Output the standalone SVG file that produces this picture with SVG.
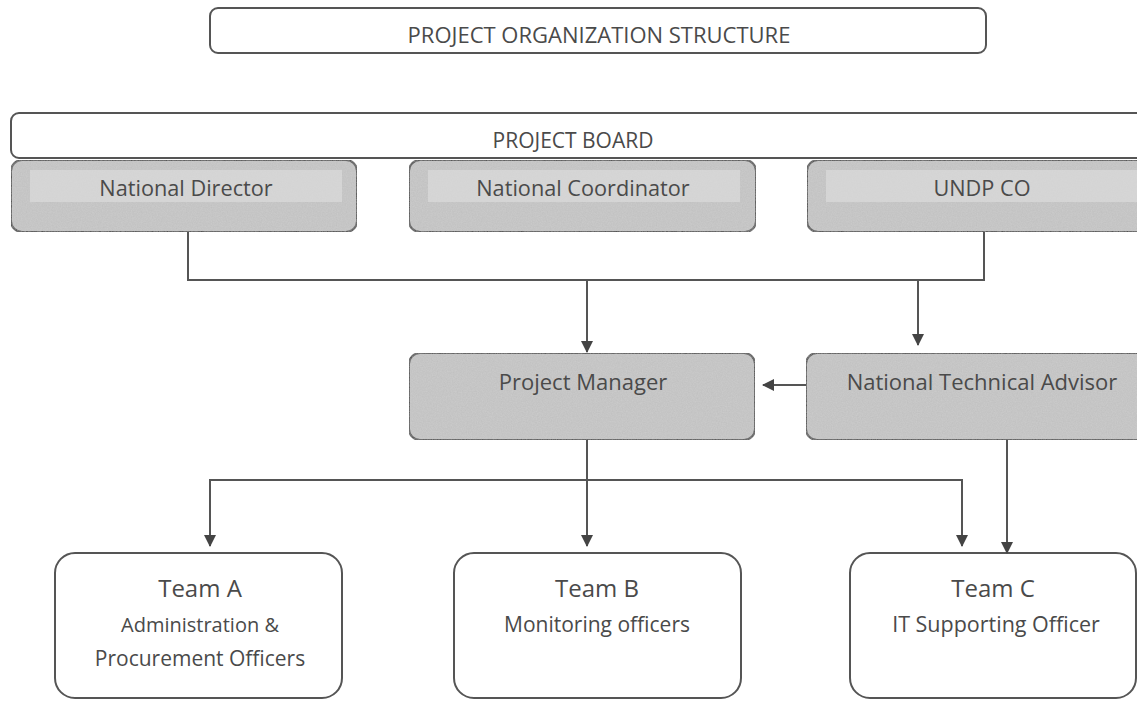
<svg xmlns="http://www.w3.org/2000/svg" width="1137" height="701" viewBox="0 0 1137 701">
<defs>
<style>
.box{fill:#fff;stroke:#555;stroke-width:2}
.gray{fill:#cacaca;stroke:#555;stroke-width:2}
.inner{fill:#dcdcdc;stroke:none}
.t{font-family:"Open Sans","Liberation Sans",sans-serif;fill:#4a4a4a;text-anchor:middle}
.line{fill:none;stroke:#555;stroke-width:2}
</style>
<marker id="ah" markerWidth="12" markerHeight="12" refX="11" refY="6" orient="auto" markerUnits="userSpaceOnUse" viewBox="0 0 12 12">
<path d="M0,0 L12,6 L0,12 Z" fill="#444"/>
</marker>
<filter id="grain" x="0" y="0" width="100%" height="100%">
<feTurbulence type="fractalNoise" baseFrequency="0.8" numOctaves="2" seed="3" result="n"/>
<feColorMatrix in="n" type="matrix" values="0 0 0 0 0.45  0 0 0 0 0.45  0 0 0 0 0.45  0 0 0 0.6 -0.1" result="g"/>
<feComposite in="g" in2="SourceGraphic" operator="in" result="gi"/>
<feMerge><feMergeNode in="SourceGraphic"/><feMergeNode in="gi"/></feMerge>
</filter>
</defs>
<rect width="1137" height="701" fill="#fff"/>

<g id="title">
<rect class="box" x="210" y="8" width="776" height="45" rx="8"/>
<text class="t" x="599" y="43" font-size="22">PROJECT ORGANIZATION STRUCTURE</text>
</g>

<g id="board">
<rect class="box" x="11" y="113" width="1140" height="45" rx="8"/>
<text class="t" x="573" y="148" font-size="21">PROJECT BOARD</text>
</g>

<g id="national-director">
<rect class="gray" x="11" y="160" width="346" height="72" rx="11" filter="url(#grain)"/>
<rect class="inner" x="30" y="170" width="312" height="32" opacity="0.7"/>
<text class="t" x="186" y="196" font-size="21.7">National Director</text>
</g>

<g id="national-coordinator">
<rect class="gray" x="409" y="160" width="347" height="72" rx="11" filter="url(#grain)"/>
<rect class="inner" x="428" y="170" width="312" height="32" opacity="0.7"/>
<text class="t" x="583" y="196" font-size="21.7">National Coordinator</text>
</g>

<g id="undp-co">
<rect class="gray" x="807" y="160" width="345" height="72" rx="11" filter="url(#grain)"/>
<rect class="inner" x="826" y="170" width="312" height="32" opacity="0.7"/>
<text class="t" x="982" y="196" font-size="21.7">UNDP CO</text>
</g>

<g id="project-manager">
<rect class="gray" x="409" y="353" width="346" height="87" rx="11" filter="url(#grain)"/>
<text class="t" x="583" y="390" font-size="22">Project Manager</text>
</g>

<g id="national-technical-advisor">
<rect class="gray" x="806" y="353" width="346" height="87" rx="11" filter="url(#grain)"/>
<text class="t" x="982" y="390" font-size="22">National Technical Advisor</text>
</g>

<g id="team-a">
<rect class="box" x="55" y="553" width="287" height="145" rx="20"/>
<text class="t" x="200" y="597" font-size="24">Team A</text>
<text class="t" x="200" y="632" font-size="20">Administration &amp;</text>
<text class="t" x="200" y="666" font-size="21">Procurement Officers</text>
</g>

<g id="team-b">
<rect class="box" x="454" y="553" width="287" height="145" rx="20"/>
<text class="t" x="597" y="597" font-size="24">Team B</text>
<text class="t" x="597" y="632" font-size="21">Monitoring officers</text>
</g>

<g id="team-c">
<rect class="box" x="850" y="553" width="286" height="145" rx="20"/>
<text class="t" x="993" y="597" font-size="24">Team C</text>
<text class="t" x="996" y="632" font-size="21.5">IT Supporting Officer</text>
</g>

<g id="connectors">
<path class="line" d="M188,232 V280 H984 V232"/>
<path class="line" d="M587,280 V352" marker-end="url(#ah)"/>
<path class="line" d="M918,280 V345" marker-end="url(#ah)"/>
<path class="line" d="M806,385 H763" marker-end="url(#ah)"/>
<path class="line" d="M587,440 V546" marker-end="url(#ah)"/>
<path class="line" d="M587,480 H210 V546" marker-end="url(#ah)"/>
<path class="line" d="M587,480 H962 V546" marker-end="url(#ah)"/>
<path class="line" d="M1007,440 V553" marker-end="url(#ah)"/>
</g>
</svg>
